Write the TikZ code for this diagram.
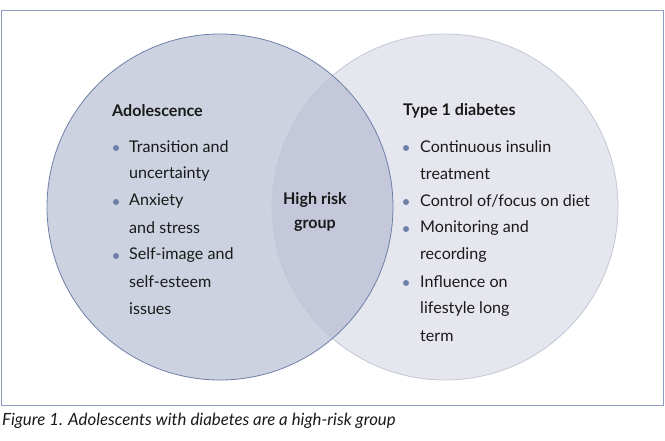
\documentclass[tikz,border=0pt]{standalone}
\usepackage{fontspec}
\setmainfont{Lato}
\definecolor{leftfill}{HTML}{CDD2E0}
\definecolor{rightfill}{HTML}{E6E7EE}
\definecolor{midfill}{HTML}{C4C8DA}
\definecolor{leftline}{HTML}{6E80A8}
\definecolor{rightline}{HTML}{C2C7D8}
\definecolor{framec}{HTML}{8C9CBE}
\definecolor{txt}{HTML}{1A1A1A}
\definecolor{bul}{HTML}{6E80A8}
\begin{document}
\begin{tikzpicture}[x=1pt,y=-1pt,
  every node/.style={inner sep=0pt, text=txt, font=\fontsize{16.1}{19}\selectfont},
  head/.style={anchor=west, font=\fontsize{16.1}{19}\selectfont\bfseries},
  item/.style={anchor=west},
  dot/.style={circle, fill=bul, minimum size=6pt, inner sep=0pt}]
\useasboundingbox (0,0) rectangle (665,440);
\fill[white] (0,0) rectangle (665,440);
\draw[framec, line width=1pt] (1.5,10) rectangle (663,405);
% circles
\fill[rightfill] (445,207) circle (173);
\fill[leftfill] (220,207) circle (173);
\begin{scope}
  \clip (220,207) circle (173);
  \fill[midfill] (445,207) circle (173);
\end{scope}
\draw[rightline, line width=0.8pt] (445,207) circle (173);
\draw[leftline, line width=0.8pt] (220,207) circle (173);
% left text
\node[head] (lh) at (112,111) {Adolescence};
\node[dot] (lb1) at (116,148) {};
\node[item] (l1) at (129,147) {Transition and};
\node[item] (l2) at (129,174) {uncertainty};
\node[dot] (lb2) at (116,202) {};
\node[item] (l3) at (129,201) {Anxiety};
\node[item] (l4) at (129,228) {and stress};
\node[dot] (lb3) at (116,256) {};
\node[item] (l5) at (129,255) {Self-image and};
\node[item] (l6) at (129,282) {self-esteem};
\node[item] (l7) at (129,309) {issues};
% middle
\node[font=\fontsize{16.1}{19}\selectfont\bfseries] (m1) at (315,200) {High risk};
\node[font=\fontsize{16.1}{19}\selectfont\bfseries] (m2) at (315,226) {group};
% right text
\node[head] (rh) at (403,111) {Type 1 diabetes};
\node[dot] (rb1) at (406,148) {};
\node[item] (r1) at (420,147) {Continuous insulin};
\node[item] (r2) at (420,174) {treatment};
\node[dot] (rb2) at (406,202) {};
\node[item] (r3) at (420,201) {Control of/focus on diet};
\node[dot] (rb3) at (406,229) {};
\node[item] (r4) at (420,228) {Monitoring and};
\node[item] (r5) at (420,255) {recording};
\node[dot] (rb4) at (406,283) {};
\node[item] (r6) at (420,282) {Influence on};
\node[item] (r7) at (420,309) {lifestyle long};
\node[item] (r8) at (420,336) {term};
% caption
\node[anchor=west, font=\fontsize{16.8}{19}\selectfont\itshape] (cap) at (2,421) {Figure 1. Adolescents with diabetes are a high-risk group};
\end{tikzpicture}
\end{document}
